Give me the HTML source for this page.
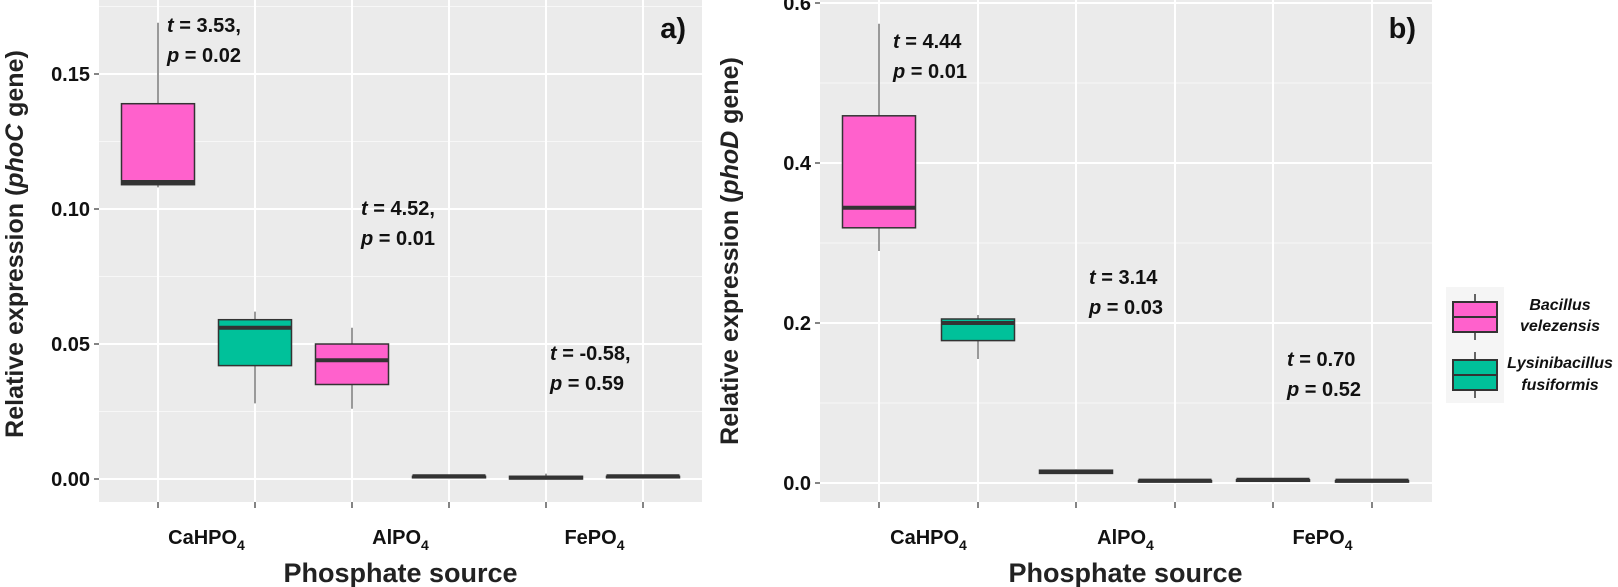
<!DOCTYPE html>
<html><head><meta charset="utf-8"><style>
body{margin:0;background:#fff;}
svg{display:block;font-family:"Liberation Sans",sans-serif;font-weight:bold;}
</style></head><body>
<svg id="chart" width="1618" height="587"></svg>
<script>
const categories=["CaHPO4","AlPO4","FePO4"];
const seriesNames=["Bacillus velezensis","Lysinibacillus fusiformis"];
// [min,q1,median,q3,max] per category per series
const aBacillus=[[0.108,0.109,0.110,0.139,0.169],[0.026,0.035,0.044,0.050,0.056],[0.0,0.0,0.0005,0.001,0.002]];
const aLysini=[[0.028,0.042,0.056,0.059,0.062],[0.001,0.001,0.001,0.001,0.001],[0.001,0.001,0.001,0.001,0.001]];
const bBacillus=[[0.29,0.319,0.344,0.459,0.574],[0.012,0.012,0.014,0.016,0.017],[0.003,0.003,0.004,0.004,0.005]];
const bLysini=[[0.155,0.178,0.200,0.205,0.21],[0.003,0.003,0.003,0.003,0.003],[0.003,0.003,0.003,0.003,0.003]];
const aTicks=[0,0.05,0.10,0.15];
const aTickLabels=["0.00","0.05","0.10","0.15"];
const bTicks=[0,0.2,0.4,0.6];
const bTickLabels=["0.0","0.2","0.4","0.6"];
const aStats=[["t = 3.53,","p = 0.02"],["t = 4.52,","p = 0.01"],["t = -0.58,","p = 0.59"]];
const bStats=[["t = 4.44","p = 0.01"],["t = 3.14","p = 0.03"],["t = 0.70","p = 0.52"]];

const NS="http://www.w3.org/2000/svg";
const svg=document.getElementById('chart');
function el(t,a,p){const e=document.createElementNS(NS,t);for(const k in a)e.setAttribute(k,a[k]);(p||svg).appendChild(e);return e;}
const PINK="#ff61cc",GREEN="#00c19a";

function panel(cfg){
  const g=el('g',{});
  
  
  const y=v=>cfg.y0-(v)*cfg.ppu;
  const bg=el('rect',{x:cfg.left,y:0,width:cfg.right-cfg.left,height:cfg.bottom,fill:"#ebebeb"},g);
  
  
  for(let i=-1;i<cfg.ticks.length;i++){
    const mv=(i<0?cfg.ticks[0]-cfg.step/2:cfg.ticks[i]+cfg.step/2);const my=y(mv);
    if(my>0&&my<cfg.bottom) el('line',{x1:cfg.left,x2:cfg.right,y1:my,y2:my,stroke:"#f7f7f7","stroke-width":1},g);
  }
  cfg.ticks.forEach((t,i)=>{
    const yy=y(t);
    el('line',{x1:cfg.left,x2:cfg.right,y1:yy,y2:yy,stroke:"#fff","stroke-width":2},g);
    el('line',{x1:cfg.left-5,x2:cfg.left,y1:yy,y2:yy,stroke:"#333","stroke-width":1.2},g);
    const tl=el('text',{x:cfg.left-9,y:yy+7,"text-anchor":"end","font-size":20,fill:"#111"},g);
    tl.textContent=cfg.tickLabels[i];
    
    
  });
  const xc=(ci,si)=>cfg.x0+ci*cfg.catW+(si===0?-cfg.dodge:cfg.dodge);
  categories.forEach((c,ci)=>{
    [0,1].forEach(si=>{const xx=xc(ci,si);
      el('line',{x1:xx,x2:xx,y1:0,y2:cfg.bottom,stroke:"#fff","stroke-width":2},g);
      el('line',{x1:xx,x2:xx,y1:cfg.bottom,y2:cfg.bottom+6,stroke:"#333","stroke-width":1.2},g);
    });
    const cx=cfg.x0+ci*cfg.catW;
    const t=el('text',{x:cx,y:cfg.labY,"text-anchor":"middle","font-size":20,fill:"#111"},g);
    t.innerHTML=c.replace("4","")+'<tspan font-size="14" dy="6">4</tspan>';
    
    
  });
  [cfg.s0,cfg.s1].forEach((ser,si)=>{
    ser.forEach((d,ci)=>{
      const xx=xc(ci,si),w=cfg.boxW;
      const bx=el('g',{},g);
      
      
      el('line',{x1:xx,x2:xx,y1:y(d[0]),y2:y(d[4]),stroke:"#333","stroke-width":1},bx);
      const h=Math.max(y(d[1])-y(d[3]),1.5);
      el('rect',{x:xx-w/2,y:y(d[3]),width:w,height:h,fill:si===0?PINK:GREEN,stroke:"#333","stroke-width":1.5},bx);
      el('line',{x1:xx-w/2,x2:xx+w/2,y1:y(d[2]),y2:y(d[2]),stroke:"#333","stroke-width":4},bx);
    });
  });
  cfg.stats.forEach((s,ci)=>{
    s.forEach((line,li)=>{
      const t=el('text',{x:cfg.statX[ci],y:cfg.statY[ci]+li*30,"font-size":20,fill:"#111"},g);
      t.innerHTML='<tspan font-style="italic">'+line[0]+'</tspan>'+line.slice(1);
      
      
    });
  });
  const lab=el('text',{x:cfg.labX,y:38,"text-anchor":"end","font-size":29,fill:"#111"},g);
  lab.textContent=cfg.label;
  
  
  const xt=el('text',{x:cfg.x0+cfg.catW,y:cfg.labY+38,"text-anchor":"middle","font-size":27,fill:"#222"},g);
  xt.textContent="Phosphate source";
  
  
  const yt=el('text',{x:0,y:0,"text-anchor":"middle","font-size":25,fill:"#222",transform:`translate(${cfg.ytX},${cfg.ytY}) rotate(-90)`},g);
  yt.innerHTML='Relative expression (<tspan font-style="italic">'+cfg.gene+'</tspan> gene)';
  
  
}
panel({name:'panel-a',left:99,right:702,bottom:502,y0:479,ppu:2700,ticks:aTicks,tickLabels:aTickLabels,step:0.05,
  x0:206.5,catW:194,dodge:48.5,boxW:73,s0:aBacillus,s1:aLysini,stats:aStats,statX:[167,361,550],statY:[32,215,360],
  label:"a)",labX:686,labY:544,ytX:23,ytY:244,gene:"phoC"});
panel({name:'panel-b',left:820,right:1432,bottom:502,y0:483,ppu:800,ticks:bTicks,tickLabels:bTickLabels,step:0.2,
  x0:928.5,catW:197,dodge:49.5,boxW:73,s0:bBacillus,s1:bLysini,stats:bStats,statX:[893,1089,1287],statY:[48,284,366],
  label:"b)",labX:1416,labY:544,ytX:738,ytY:251,gene:"phoD"});
// legend
const lg=el('g',{});


el('rect',{x:1446,y:287,width:58,height:116,fill:"#f5f5f5"},lg);
[[PINK,"Bacillus","velezensis",317,310,331],[GREEN,"Lysinibacillus","fusiformis",375,368,390]].forEach((k,i)=>{
  const e=el('g',{},lg);
  
  
  el('line',{x1:1475,x2:1475,y1:k[3]-23,y2:k[3]+23,stroke:"#333","stroke-width":1.5},e);
  el('rect',{x:1453,y:k[3]-15,width:44,height:30,fill:k[0],stroke:"#333","stroke-width":2},e);
  el('line',{x1:1453,x2:1497,y1:k[3],y2:k[3],stroke:"#333","stroke-width":2},e);
  [k[1],k[2]].forEach((s,j)=>{const t=el('text',{x:1560,y:j?k[5]:k[4],"text-anchor":"middle","font-size":16,"font-style":"italic",fill:"#111"},e);t.textContent=s;});
});
</script>
</body></html>
